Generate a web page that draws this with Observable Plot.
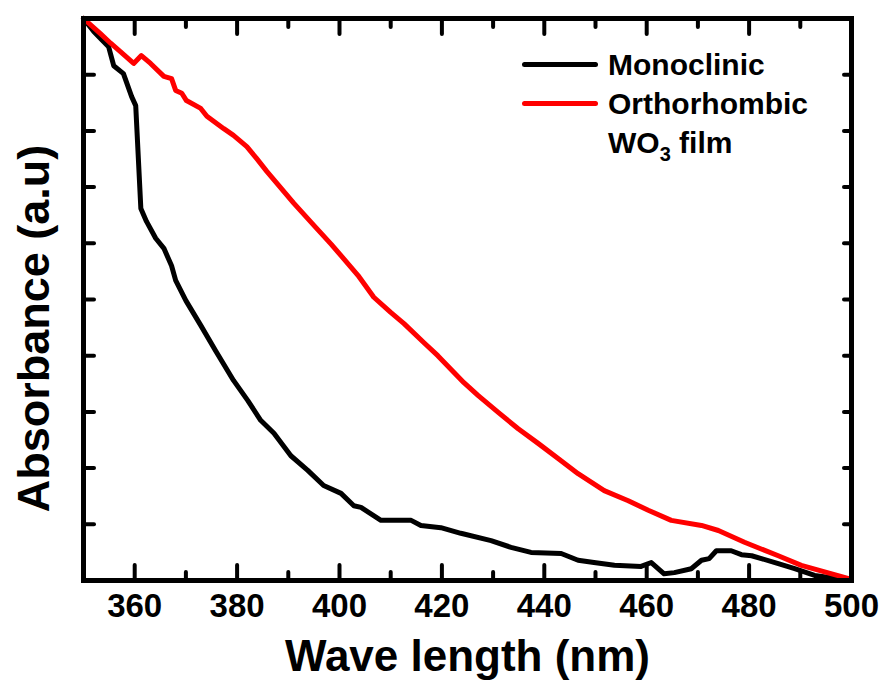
<!DOCTYPE html>
<html>
<head>
<meta charset="utf-8">
<script src="https://cdn.jsdelivr.net/npm/d3@7"></script>
<script src="https://cdn.jsdelivr.net/npm/@observablehq/plot@0.6"></script>
<style>
  html, body { margin: 0; padding: 0; background: #fff; }
  #wrap { position: relative; width: 885px; height: 699px; font-family: "Liberation Sans", Arial, sans-serif; font-weight: bold; }
  #legend { position: absolute; left: 522px; top: 45px; font-size: 30px; line-height: 39px; color: #000; }
  .row { position: relative; height: 39px; white-space: nowrap; }
  .sw { position: absolute; left: 0; top: 17px; width: 76px; height: 5px; border-radius: 3px; }
  .lab { position: absolute; left: 86px; top: 0; }
  sub { font-size: 20px; vertical-align: -8px; line-height: 0; }
</style>
</head>
<body>
<div id="wrap"></div>
<script>
// Wavelength (nm) and absorbance (a.u., normalised)
const monoWave = [350, 352.0, 353.9, 354.9, 355.9, 357.8, 359.4, 360.2, 361.2, 362.3, 364.1, 365.7, 367.2, 368.0, 370.0, 372.9, 375.8, 379.3, 382.1, 384.6, 387.2, 390.5, 393.8, 396.9, 400.3, 402.8, 404.2, 408.1, 414.0, 415.9, 419.8, 423.7, 429.6, 433.5, 437.4, 443.3, 446.6, 449.7, 453.7, 458.9, 460.9, 463.4, 465.4, 468.7, 470.7, 472.2, 473.6, 476.5, 478.5, 480.5, 482.4, 485.7, 488.9, 492.8, 496.7, 500];
const monoAbs  = [1.000, 0.977, 0.959, 0.950, 0.916, 0.902, 0.861, 0.845, 0.662, 0.639, 0.609, 0.591, 0.560, 0.534, 0.498, 0.454, 0.409, 0.356, 0.320, 0.285, 0.262, 0.222, 0.196, 0.169, 0.155, 0.133, 0.130, 0.107, 0.107, 0.098, 0.094, 0.084, 0.071, 0.059, 0.050, 0.048, 0.036, 0.032, 0.027, 0.025, 0.032, 0.012, 0.014, 0.021, 0.036, 0.039, 0.053, 0.053, 0.046, 0.044, 0.039, 0.030, 0.021, 0.009, 0.004, 0.002];

const orthoWave = [350, 353.3, 355.3, 357.2, 359.8, 361.3, 363.1, 365.7, 367.2, 368.0, 369.2, 370.1, 372.9, 374.1, 377.4, 379.3, 381.9, 383.8, 385.8, 391.1, 395.0, 398.4, 400.3, 403.6, 406.7, 410.0, 412.6, 416.5, 419.2, 424.3, 427.1, 431.0, 434.9, 438.8, 442.7, 446.6, 451.7, 456.4, 460.3, 464.8, 470.7, 474.0, 479.1, 485.7, 490.2, 500];
const orthoAbs  = [1.000, 0.973, 0.956, 0.941, 0.920, 0.934, 0.920, 0.897, 0.893, 0.872, 0.867, 0.854, 0.840, 0.826, 0.804, 0.792, 0.772, 0.751, 0.728, 0.671, 0.632, 0.598, 0.578, 0.543, 0.504, 0.477, 0.457, 0.423, 0.400, 0.352, 0.329, 0.299, 0.270, 0.244, 0.217, 0.190, 0.160, 0.142, 0.125, 0.107, 0.098, 0.089, 0.068, 0.044, 0.027, 0.002];

const seriesNames = ["Monoclinic", "Orthorhombic"];
const seriesColors = ["#000000", "#ff0000"];
const xMajorTicks = [360, 380, 400, 420, 440, 460, 480, 500];
const xMinorTicks = [370, 390, 410, 430, 450, 470, 490];
const yTicks = [0.1, 0.2, 0.3, 0.4, 0.5, 0.6, 0.7, 0.8, 0.9];

const mono = monoWave.map((w, i) => ({w, a: monoAbs[i]}));
const ortho = orthoWave.map((w, i) => ({w, a: orthoAbs[i]}));

const font = "'Liberation Sans', Arial, sans-serif";
const tickStyle = {text: null, label: null, strokeWidth: 4, strokeLinecap: "round"};

const chart = Plot.plot({
  width: 885,
  height: 699,
  marginLeft: 83,
  marginRight: 34,
  marginTop: 18,
  marginBottom: 119,
  style: {fontFamily: font, fontWeight: "bold", background: "#fff", color: "#000"},
  x: {domain: [350, 500]},
  y: {domain: [0, 1]},
  marks: [
    Plot.line(mono, {x: "w", y: "a", stroke: seriesColors[0], strokeWidth: 5, strokeLinejoin: "round", strokeLinecap: "round"}),
    Plot.line(ortho, {x: "w", y: "a", stroke: seriesColors[1], strokeWidth: 5, strokeLinejoin: "round", strokeLinecap: "round"}),
    Plot.frame({stroke: "#000", strokeWidth: 5}),
    Plot.axisX({anchor: "bottom", ticks: xMajorTicks, tickSize: -15, ...tickStyle}),
    Plot.axisX({anchor: "bottom", ticks: xMinorTicks, tickSize: -8, ...tickStyle}),
    Plot.axisX({anchor: "top", ticks: xMajorTicks, tickSize: -15, ...tickStyle}),
    Plot.axisX({anchor: "top", ticks: xMinorTicks, tickSize: -8, ...tickStyle}),
    Plot.axisX({anchor: "bottom", ticks: xMajorTicks, tickSize: 0, tickPadding: 13, fontSize: 33, fontWeight: "bold", label: null, tickFormat: d => String(d)}),
    Plot.axisY({anchor: "left", ticks: yTicks, tickSize: -11, ...tickStyle}),
    Plot.axisY({anchor: "right", ticks: yTicks, tickSize: -8, ...tickStyle}),
    Plot.text(["Wave length (nm)"], {text: d => d, frameAnchor: "bottom", dy: 90, fontSize: 44, fontWeight: "bold"}),
    Plot.text(["Absorbance (a.u)"], {text: d => d, frameAnchor: "left", textAnchor: "middle", rotate: -90, dx: -49, dy: 29, fontSize: 45, fontWeight: "bold"})
  ]
});

const wrap = document.getElementById("wrap");
wrap.appendChild(chart);

const legend = document.createElement("div");
legend.id = "legend";
seriesNames.forEach((name, i) => {
  const row = document.createElement("div");
  row.className = "row";
  row.innerHTML = `<span class="sw" style="background:${seriesColors[i]}"></span><span class="lab">${name}</span>`;
  legend.appendChild(row);
});
const row3 = document.createElement("div");
row3.className = "row";
row3.innerHTML = `<span class="lab">WO<sub>3</sub> film</span>`;
legend.appendChild(row3);
wrap.appendChild(legend);
</script>
</body>
</html>
